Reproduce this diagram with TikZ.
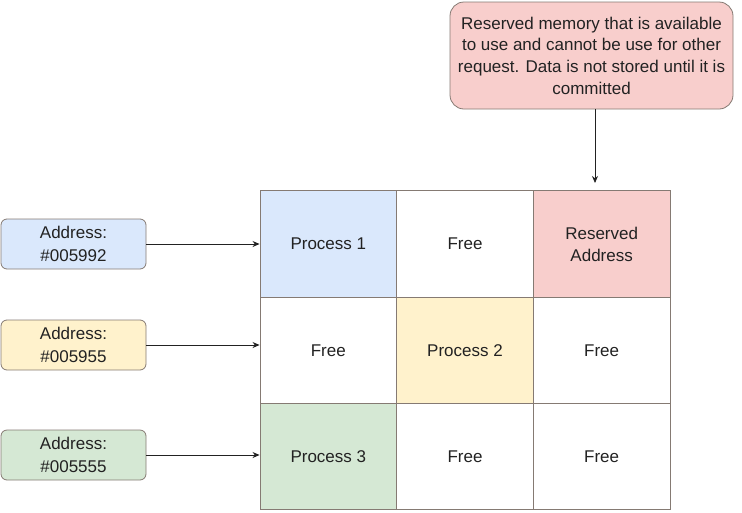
\documentclass[tikz,border=0pt]{standalone}
\usepackage{fontspec}
\setmainfont{Liberation Sans}
\usetikzlibrary{arrows.meta}
\definecolor{pblue}{HTML}{DAE8FC}
\definecolor{pyellow}{HTML}{FFF2CC}
\definecolor{pgreen}{HTML}{D5E8D4}
\definecolor{pred}{HTML}{F8CECC}
\definecolor{bord}{HTML}{857A73}
\definecolor{txt}{HTML}{222222}
\tikzset{
  cell/.style={draw=bord, line width=0.9pt, minimum width=136.67pt, minimum height=106.33pt, inner sep=0pt, font=\fontsize{17}{22}\selectfont, text=txt, align=center},
  addr/.style={draw=bord, line width=0.8pt, rounded corners=6pt, minimum width=145pt, minimum height=50pt, inner sep=0pt, font=\fontsize{17}{23}\selectfont, text=txt, align=center},
  conn/.style={-{Stealth[length=7pt,width=6pt]}, line width=0.8pt, draw=txt},
}
\begin{document}
\begin{tikzpicture}[x=1pt,y=-1pt]
\useasboundingbox (0,0) rectangle (742,512);
% grid cells
\node[cell, fill=pblue] (c11) at (328.33,244) {Process 1};
\node[cell] (c12) at (465,244) {Free};
\node[cell, fill=pred] (c13) at (601.67,244) {Reserved\\Address};
\node[cell] (c21) at (328.33,350.33) {Free};
\node[cell, fill=pyellow] (c22) at (465,350.33) {Process 2};
\node[cell] (c23) at (601.67,350.33) {Free};
\node[cell, fill=pgreen] (c31) at (328.33,456.67) {Process 3};
\node[cell] (c32) at (465,456.67) {Free};
\node[cell] (c33) at (601.67,456.67) {Free};
% address boxes
\node[addr, fill=pblue] (a1) at (73.5,244) {Address:\\\#005992};
\node[addr, fill=pyellow] (a2) at (73.5,345) {Address:\\\#005955};
\node[addr, fill=pgreen] (a3) at (73.5,455) {Address:\\\#005555};
% callout
\node[draw=bord, line width=0.8pt, fill=pred, rounded corners=14pt, minimum width=283pt, minimum height=107pt, inner sep=0pt, font=\fontsize{17}{21.7}\selectfont, text=txt, align=center] (note) at (591.5,55.5) {Reserved memory that is available\\to use and cannot be use for other\\request. Data is not stored until it is\\committed};
% connectors
\draw[conn] (a1.east) -- (a1.east -| c11.west);
\draw[conn] (a2.east) -- (a2.east -| c21.west);
\draw[conn] (a3.east) -- (a3.east -| c31.west);
\coordinate (tip) at (595,183);
\draw[conn] (note.south -| tip) -- (tip);
\end{tikzpicture}
\end{document}
